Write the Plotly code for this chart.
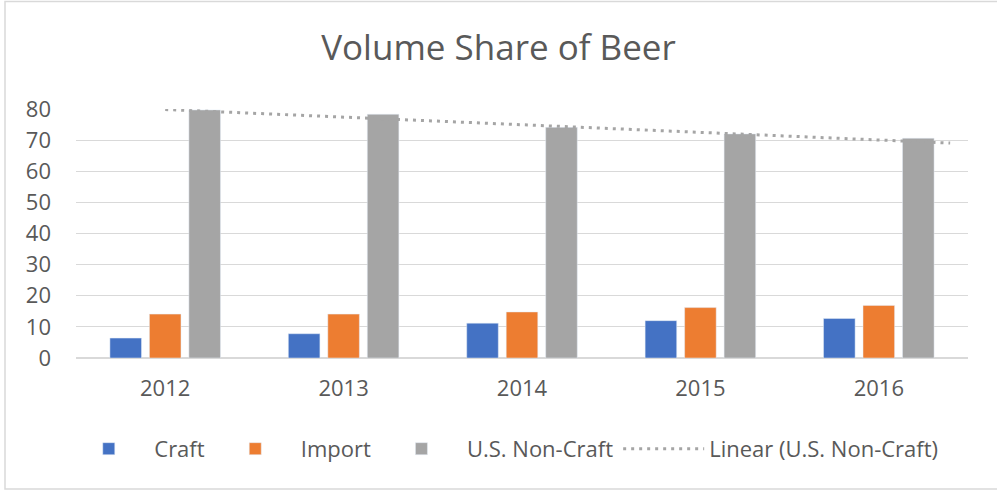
import numpy as np
import plotly.graph_objects as go

years = ["2012", "2013", "2014", "2015", "2016"]
craft = [6.4, 7.8, 11.2, 12.0, 12.7]
imports = [14.1, 14.1, 14.8, 16.2, 16.9]
non_craft = [79.7, 78.3, 74.1, 72.0, 70.6]
y_ticks = [0, 10, 20, 30, 40, 50, 60, 70, 80]
trend_forward = 0.4  # forward forecast periods of the linear trendline

x = np.arange(len(years))
slope, intercept = np.polyfit(x, non_craft, 1)
trend_x = [0, len(years) - 1 + trend_forward]
trend_y = [intercept + slope * v for v in trend_x]

TXT = "#595959"
FONT = "Open Sans"

fig = go.Figure()
fig.add_trace(go.Bar(x=x, y=craft, name="Craft", marker_color="#4472c4"))
fig.add_trace(go.Bar(x=x, y=imports, name="Import", marker_color="#ed7d31"))
fig.add_trace(go.Bar(x=x, y=non_craft, name="U.S. Non-Craft", marker_color="#a5a5a5"))
fig.add_trace(go.Scatter(x=trend_x, y=trend_y, mode="lines", name="Linear (U.S. Non-Craft)",
                         line=dict(color="#a5a5a5", width=3, dash="3px,5px")))

fig.update_layout(
    width=997, height=492,
    margin=dict(l=76, r=29, t=109, b=134),
    paper_bgcolor="white", plot_bgcolor="white",
    font=dict(family=FONT, color=TXT, size=22),
    title=dict(text="Volume Share of Beer", x=0.5, xanchor="center", y=0.902, yanchor="middle",
               font=dict(size=35, color=TXT, family=FONT)),
    barmode="group", bargap=0.336, bargroupgap=0.2,
    showlegend=True,
    legend=dict(orientation="h", x=0.479, xanchor="center", y=-0.365, yanchor="middle",
                font=dict(size=22, color=TXT), itemwidth=81, traceorder="normal"),
    xaxis=dict(range=[-0.5, 4.5], tickvals=list(x), ticktext=years, showgrid=False,
               showline=True, linecolor="#d9d9d9", linewidth=1, ticks="", ticklabelstandoff=11,
               zeroline=False, fixedrange=True, tickfont=dict(size=22)),
    yaxis=dict(range=[0, 80], tickvals=y_ticks, showgrid=True, gridcolor="#d9d9d9", gridwidth=1,
               zeroline=True, zerolinecolor="#d9d9d9", showline=False, ticks="",
               ticklabelstandoff=24, fixedrange=True, tickfont=dict(size=22)),
    shapes=[dict(type="rect", xref="paper", yref="paper", x0=-0.0796, x1=1.06, y0=-0.526, y1=1.432,
                 line=dict(color="#d9d9d9", width=1.5), fillcolor="rgba(0,0,0,0)", layer="below")],
)

fig.write_html("out.html", config={"displayModeBar": False},
               post_script="document.body.style.margin='0';document.body.style.overflow='hidden';")
